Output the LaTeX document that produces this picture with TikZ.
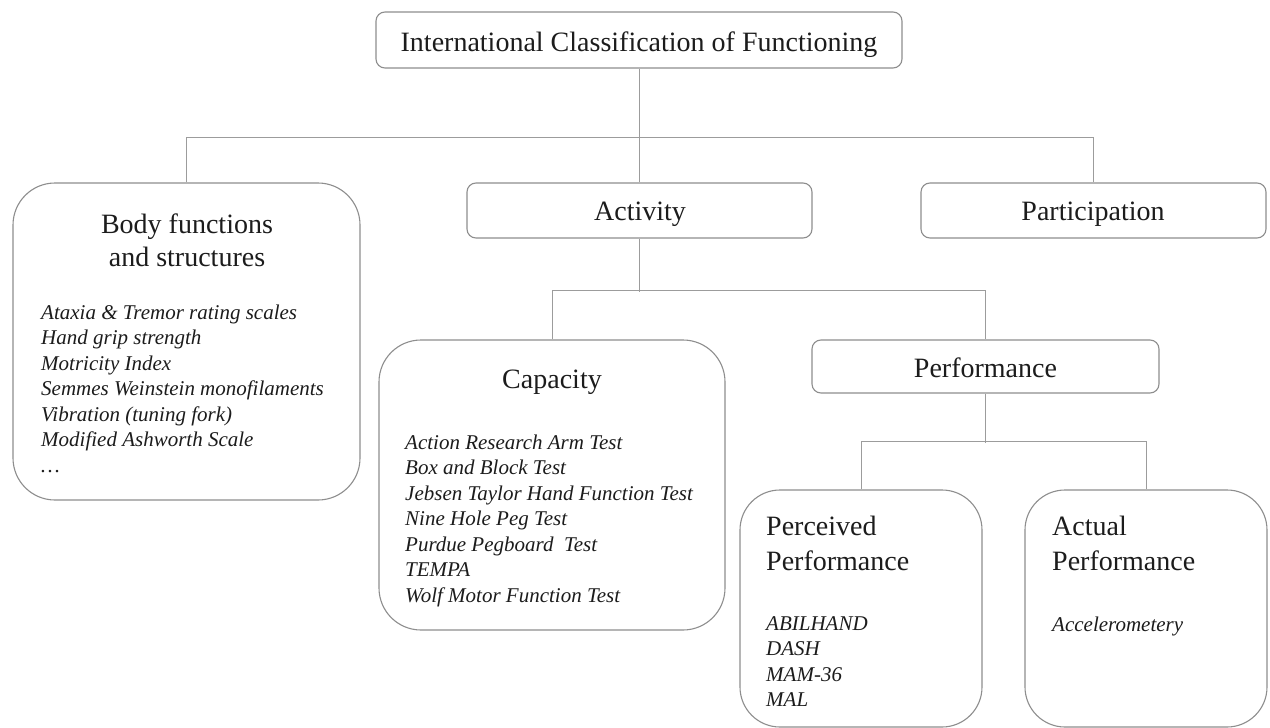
\documentclass[tikz,border=0pt]{standalone}
\usepackage{fontspec}
\setmainfont{Liberation Serif}
\definecolor{boxgray}{HTML}{8E8E8E}
\definecolor{linegray}{HTML}{9C9C9C}
\definecolor{txt}{HTML}{1C1C1C}
\newcommand\headfont{\fontsize{28}{33}\selectfont}
\newcommand\itemfont{\fontsize{21}{25.5}\selectfont\itshape}
\begin{document}
\begin{tikzpicture}[x=1pt,y=-1pt,
  sbox/.style={draw=boxgray, line width=1.1pt, rounded corners=9pt, inner sep=0pt, fill=white},
  bbox/.style={draw=boxgray, line width=1.1pt, rounded corners=42pt, inner sep=0pt, fill=white},
  conn/.style={draw=linegray, line width=1pt},
  head/.style={inner sep=0pt, anchor=base, font=\headfont, text=txt},
  lhead/.style={inner sep=0pt, anchor=base west, font=\headfont, text=txt},
  item/.style={inner sep=0pt, anchor=base west, font=\itemfont, text=txt}]
\useasboundingbox (0,0) rectangle (1270,728);
\fill[white] (0,0) rectangle (1270,728);

% boxes
\node[sbox, minimum width=526pt, minimum height=56pt] (icf) at (639,40) {};
\node[bbox, minimum width=347pt, minimum height=317pt] (body) at (186.5,341.5) {};
\node[sbox, minimum width=345pt, minimum height=55pt] (act) at (639.5,210.5) {};
\node[sbox, minimum width=345pt, minimum height=55pt] (part) at (1093.5,210.5) {};
\node[bbox, minimum width=346pt, minimum height=290pt] (cap) at (552,485) {};
\node[sbox, minimum width=347pt, minimum height=53pt] (perf) at (985.5,366.5) {};
\node[bbox, rounded corners=40pt, minimum width=242pt, minimum height=237pt] (perc) at (861,608.5) {};
\node[bbox, rounded corners=40pt, minimum width=242pt, minimum height=237pt] (actual) at (1146,608.5) {};

% connectors
\draw[conn] (icf.south) -- (icf.south |- act.north);
\draw[conn] (body.north) -- ++(0,-45) -| (part.north);
\draw[conn] (act.south) -- ++(0,53);
\draw[conn] (cap.north) -- ++(0,-49) -| (perf.north);
\draw[conn] (perf.south) -- ++(0,49);
\draw[conn] (perc.north) -- ++(0,-48) -| (actual.north);

% headings
\node[head] (ticf) at (639,51) {International Classification of Functioning};
\node[head] (tact) at (640,220) {Activity};
\node[head] (tpart) at (1093,220) {Participation};
\node[head] (tbody1) at (187,233) {Body functions};
\node[head] (tbody2) at (187,266) {and structures};
\node[head] (tcap) at (552,388) {Capacity};
\node[head] (tperf) at (985.5,377) {Performance};
\node[lhead] (tperc1) at (766,535) {Perceived};
\node[lhead] (tperc2) at (766,570) {Performance};
\node[lhead] (tactual1) at (1052,535) {Actual};
\node[lhead] (tactual2) at (1052,570) {Performance};

% body items
\node[item] (b1) at (41,319) {Ataxia \& Tremor rating scales};
\node[item] (b2) at (41,344.5) {Hand grip strength};
\node[item] (b3) at (41,370) {Motricity Index};
\node[item] (b4) at (41,395.5) {Semmes Weinstein monofilaments};
\node[item] (b5) at (41,421) {Vibration (tuning fork)};
\node[item] (b6) at (41,446.5) {Modified Ashworth Scale};
\node[item] (b7) at (41,472) {\dots};

% capacity items
\node[item] (c1) at (405,449) {Action Research Arm Test};
\node[item] (c2) at (405,474.5) {Box and Block Test};
\node[item] (c3) at (405,500) {Jebsen Taylor Hand Function Test};
\node[item] (c4) at (405,525.5) {Nine Hole Peg Test};
\node[item] (c5) at (405,551) {Purdue Pegboard\ \ Test};
\node[item] (c6) at (405,576.5) {TEMPA};
\node[item] (c7) at (405,602) {Wolf Motor Function Test};

% perceived items
\node[item] (p1) at (766,630) {ABILHAND};
\node[item] (p2) at (766,655.5) {DASH};
\node[item] (p3) at (766,681) {MAM-36};
\node[item] (p4) at (766,706.5) {MAL};

% actual items
\node[item] (a1) at (1052,631) {Accelerometery};
\end{tikzpicture}
\end{document}
